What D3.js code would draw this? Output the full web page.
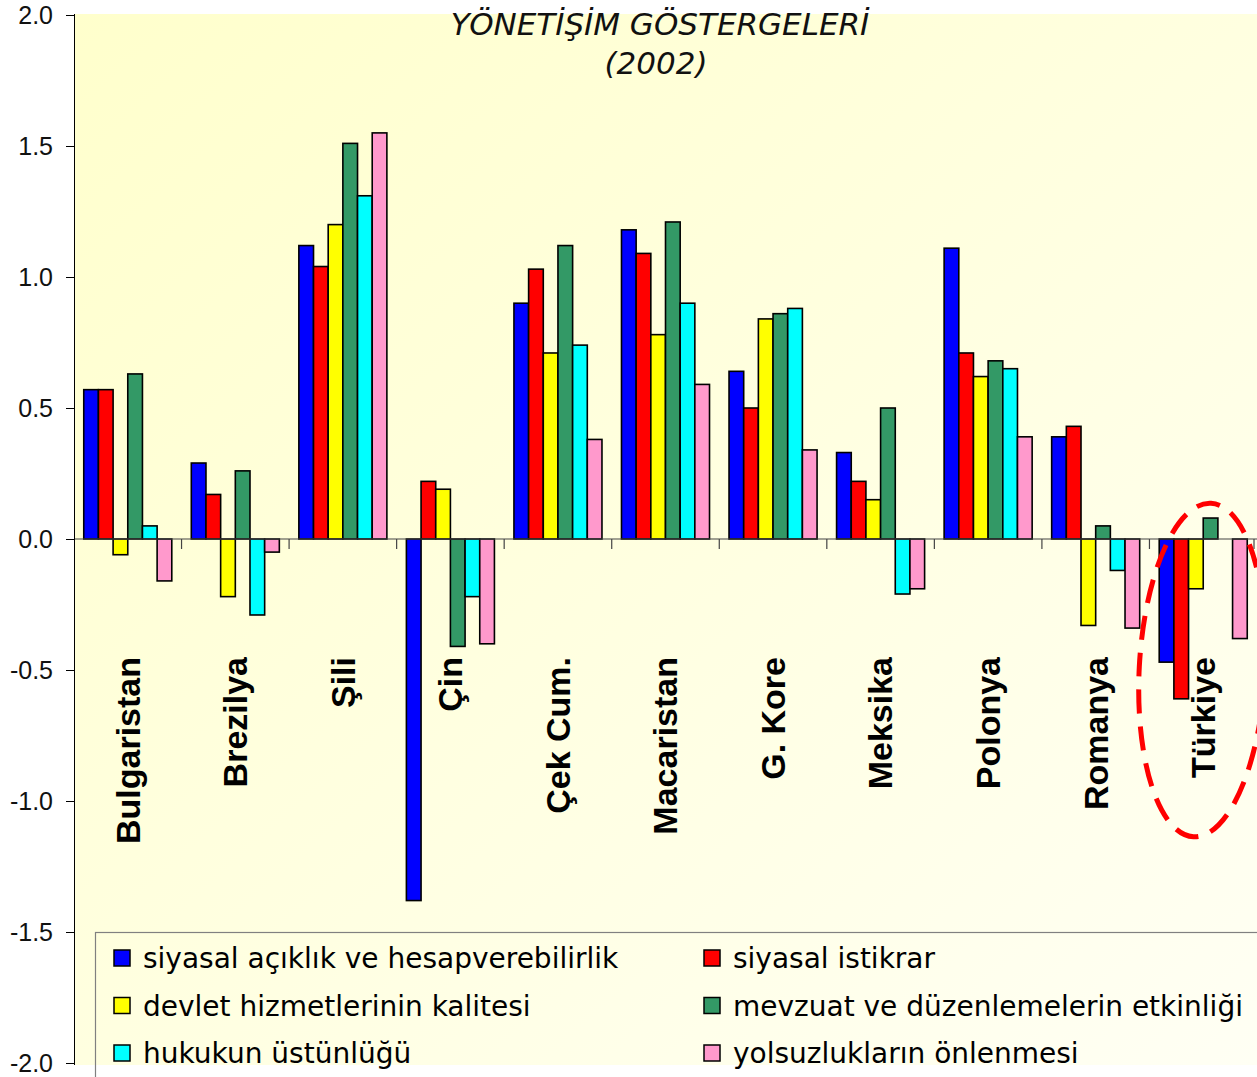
<!DOCTYPE html>
<html>
<head>
  <meta charset="utf-8">
  <style>
    body {
      margin: 0;
      background: #fff;
    }
  </style>
</head>
<body>
  <div id="chart"></div>

  <script src="https://d3js.org/d3.v7.min.js"></script>
  <script>
  // countries and the six governance indicators (2002)
  const countries = ["Bulgaristan", "Brezilya", "Şili", "Çin", "Çek Cum.", "Macaristan",
                     "G. Kore", "Meksika", "Polonya", "Romanya", "Türkiye"];

  const seriesNames = ["siyasal açıklık ve hesapverebilirlik", "siyasal istikrar",
                       "devlet hizmetlerinin kalitesi", "mevzuat ve düzenlemelerin etkinliği",
                       "hukukun üstünlüğü", "yolsuzlukların önlenmesi"];

  const aciklik    = [0.57, 0.29, 1.12, -1.38, 0.90, 1.18, 0.64, 0.33, 1.11, 0.39, -0.47];
  const istikrar   = [0.57, 0.17, 1.04, 0.22, 1.03, 1.09, 0.50, 0.22, 0.71, 0.43, -0.61];
  const kalite     = [-0.06, -0.22, 1.20, 0.19, 0.71, 0.78, 0.84, 0.15, 0.62, -0.33, -0.19];
  const mevzuat    = [0.63, 0.26, 1.51, -0.41, 1.12, 1.21, 0.86, 0.50, 0.68, 0.05, 0.08];
  const hukuk      = [0.05, -0.29, 1.31, -0.22, 0.74, 0.90, 0.88, -0.21, 0.65, -0.12, null];
  const yolsuzluk  = [-0.16, -0.05, 1.55, -0.40, 0.38, 0.59, 0.34, -0.19, 0.39, -0.34, -0.38];

  const yTicks = [2.0, 1.5, 1.0, 0.5, 0.0, -0.5, -1.0, -1.5, -2.0];
  const titleLines = ["YÖNETİŞİM GÖSTERGELERİ", "(2002)"];

  const seriesValues = [aciklik, istikrar, kalite, mevzuat, hukuk, yolsuzluk];
  const colors = ["#0000ff", "#ff0000", "#ffff00", "#339966", "#00ffff", "#ff99cc"];

  const W = 1257, H = 1077;
  const plot = {left: 74, right: 1257, top: 15, bottom: 1065};

  const svg = d3.select("#chart").append("svg")
      .attr("width", W)
      .attr("height", H);

  // background gradient of the plot area
  const grad = svg.append("defs").append("linearGradient")
      .attr("id", "bg")
      .attr("x1", 0).attr("y1", 0).attr("x2", 1).attr("y2", 1);
  grad.append("stop").attr("offset", "0%").attr("stop-color", "#ffffcc");
  grad.append("stop").attr("offset", "100%").attr("stop-color", "#fffff4");

  svg.append("rect")
      .attr("x", plot.left)
      .attr("y", plot.top - 1)
      .attr("width", plot.right - plot.left)
      .attr("height", plot.bottom - plot.top + 1)
      .attr("fill", "url(#bg)");

  const x0 = d3.scaleBand()
      .domain(countries)
      .range([plot.left, plot.right])
      .padding(0);

  const x1 = d3.scaleBand()
      .domain(d3.range(seriesNames.length))
      .range([0, x0.bandwidth()])
      .paddingInner(0)
      .paddingOuter(0.665);

  const y = d3.scaleLinear()
      .domain([-2, 2])
      .range([1063, 15]);

  // title
  svg.append("g")
    .selectAll("text")
    .data(titleLines)
    .join("text")
      .attr("x", (d, i) => i ? 656 : 660)
      .attr("y", (d, i) => 35 + i * 39)
      .attr("text-anchor", "middle")
      .attr("font-family", "DejaVu Sans, Verdana, sans-serif")
      .attr("font-style", "italic")
      .attr("font-size", 31)
      .attr("fill", "#111")
      .text(d => d);

  // bars
  const groups = svg.append("g")
    .selectAll("g")
    .data(countries)
    .join("g")
      .attr("transform", d => "translate(" + x0(d) + ",0)");

  groups.selectAll("rect")
    .data((c, ci) => seriesValues.map((vals, si) => ({si: si, v: vals[ci]})).filter(d => d.v !== null))
    .join("rect")
      .attr("x", d => x1(d.si))
      .attr("y", d => y(Math.max(0, d.v)))
      .attr("width", x1.bandwidth())
      .attr("height", d => Math.abs(y(d.v) - y(0)))
      .attr("fill", d => colors[d.si])
      .attr("stroke", "#000")
      .attr("stroke-width", 1.6);

  // zero line with category boundary ticks
  const zeroAxis = svg.append("g");
  zeroAxis.append("line")
      .attr("x1", plot.left).attr("x2", plot.right)
      .attr("y1", y(0)).attr("y2", y(0))
      .attr("stroke", "#444")
      .attr("stroke-width", 1.2);
  zeroAxis.selectAll(".bt")
    .data(countries.slice(1).concat(["end"]))
    .join("line")
      .attr("class", "bt")
      .attr("x1", d => d === "end" ? plot.right - 3 : x0(d))
      .attr("x2", d => d === "end" ? plot.right - 3 : x0(d))
      .attr("y1", y(0))
      .attr("y2", y(0) + 10)
      .attr("stroke", "#444")
      .attr("stroke-width", 1.2);

  // y axis
  const yAxis = svg.append("g")
      .attr("transform", "translate(" + plot.left + ",0)")
      .call(d3.axisLeft(y)
        .tickValues(yTicks)
        .tickFormat(d => d.toFixed(1))
        .tickSize(8)
        .tickSizeOuter(0)
        .tickPadding(13));
  yAxis.select(".domain")
      .attr("d", "M0.5," + (plot.top - 1) + "V" + plot.bottom)
      .attr("stroke", "#000");
  yAxis.selectAll(".tick line").attr("stroke", "#000");
  yAxis.selectAll(".tick text")
      .attr("font-family", "Liberation Sans, Arial, sans-serif")
      .attr("font-size", 25)
      .attr("fill", "#111");

  // country labels, rotated
  svg.append("g")
    .selectAll("text")
    .data(countries)
    .join("text")
      .attr("transform", d => "translate(" + (x0(d) + x0.bandwidth() / 2) + ",657) rotate(-90)")
      .attr("text-anchor", "end")
      .attr("dy", "0.35em")
      .attr("font-family", "Liberation Sans, Arial, sans-serif")
      .attr("font-weight", "bold")
      .attr("font-size", 34)
      .attr("fill", "#000")
      .text(d => d);

  // red dashed ellipse around Türkiye
  const tr = "Türkiye";
  svg.append("ellipse")
      .attr("transform", "translate(" + (x0(tr) + x0.bandwidth() / 2 - 1) + "," + y(-0.5) + ") rotate(3)")
      .attr("rx", 63)
      .attr("ry", 167)
      .attr("fill", "none")
      .attr("stroke", "#ff0000")
      .attr("stroke-width", 5)
      .attr("stroke-dasharray", "24,13");

  // legend
  const legend = svg.append("g");
  legend.append("rect")
      .attr("x", 95.5)
      .attr("y", 932.5)
      .attr("width", W)
      .attr("height", 300)
      .attr("fill", "none")
      .attr("stroke", "#808080")
      .attr("stroke-width", 1.2);

  const items = legend.selectAll("g.item")
    .data(seriesNames)
    .join("g")
      .attr("class", "item")
      .attr("transform", (d, i) => "translate(" + (i % 2 ? 704 : 114) + "," + (950 + Math.floor(i / 2) * 47.5) + ")");

  items.append("rect")
      .attr("width", 16)
      .attr("height", 16)
      .attr("fill", (d, i) => colors[i])
      .attr("stroke", "#000")
      .attr("stroke-width", 1.5);

  items.append("text")
      .attr("x", 29)
      .attr("y", 18)
      .attr("font-family", "DejaVu Sans, Verdana, sans-serif")
      .attr("font-size", 28)
      .attr("fill", "#000")
      .text(d => d);
  </script>
</body>
</html>
